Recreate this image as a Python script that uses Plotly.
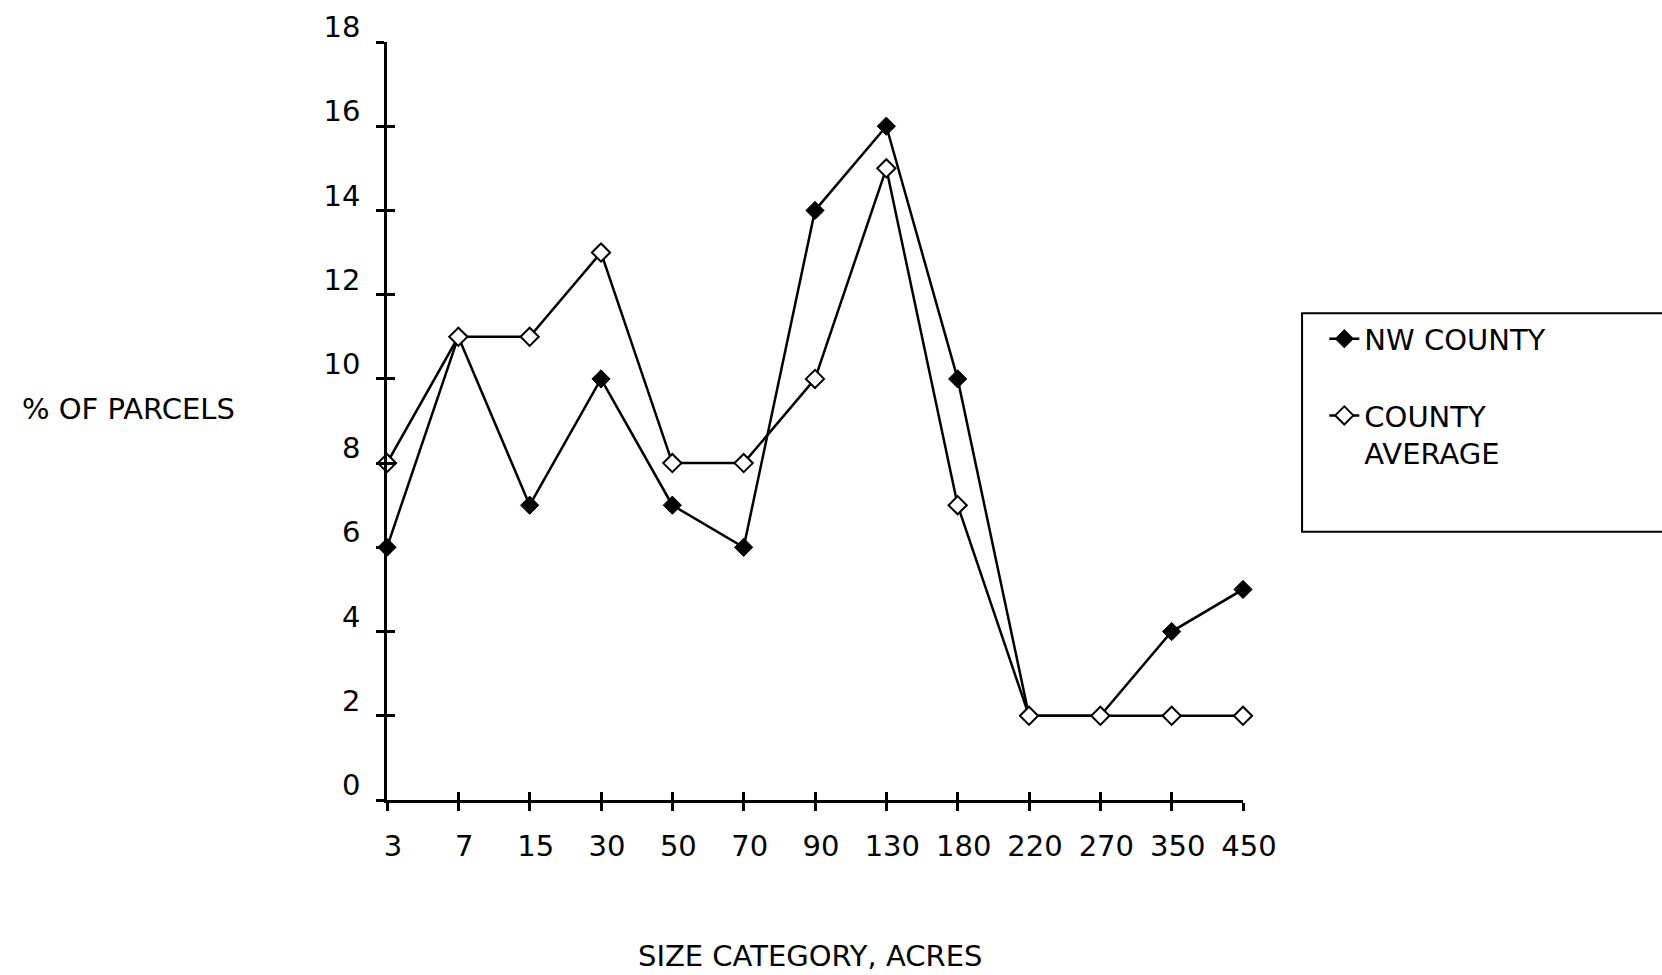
import plotly.graph_objects as go

# Parcel size categories (acres) and share of parcels in each
size_categories = ["3", "7", "15", "30", "50", "70", "90", "130", "180", "220", "270", "350", "450"]
nw_county = [6, 11, 7, 10, 7, 6, 14, 16, 10, 2, 2, 4, 5]
county_average = [8, 11, 11, 13, 8, 8, 10, 15, 7, 2, 2, 2, 2]
y_ticks = [0, 2, 4, 6, 8, 10, 12, 14, 16, 18]

FONT = "DejaVu Sans"
positions = list(range(len(size_categories)))

fig = go.Figure()
fig.add_trace(go.Scatter(
    x=positions, y=nw_county, name="NW COUNTY", mode="lines+markers",
    line=dict(color="black", width=2.5),
    marker=dict(symbol="diamond", size=14, color="black", line=dict(color="black", width=1)),
    cliponaxis=False, legendgroup="nw",
))
fig.add_trace(go.Scatter(
    x=positions, y=county_average, name="COUNTY<br>AVERAGE", mode="lines+markers",
    line=dict(color="black", width=2.5),
    marker=dict(symbol="diamond", size=14, color="white", line=dict(color="black", width=2)),
    cliponaxis=False, legendgroup="avg",
))
# empty trace that anchors the companion axes (inner tick halves)
fig.add_trace(go.Scatter(x=[], y=[], xaxis="x2", yaxis="y2", showlegend=False, hoverinfo="skip"))

axis_common = dict(showgrid=False, zeroline=False, showline=True, linecolor="black",
                   linewidth=2.5, tickcolor="black", tickwidth=2.5, ticklen=8,
                   automargin=False)

fig.update_layout(
    width=1662, height=975,
    margin=dict(l=387, r=419, t=42, b=175),
    paper_bgcolor="white", plot_bgcolor="white",
    font=dict(family=FONT, size=29, color="black"),
    showlegend=True,
    legend=dict(x=1.095, y=0.642, xanchor="left", yanchor="top",
                bgcolor="rgba(0,0,0,0)", borderwidth=0,
                traceorder="grouped", tracegroupgap=36, valign="top",
                font=dict(family=FONT, size=29, color="black")),
    xaxis=dict(**axis_common, range=[0, 12], tickmode="array", tickvals=positions,
               ticktext=size_categories, ticks="outside", ticklabelshift=6,
               ticklabelstandoff=10, tickfont=dict(size=29), title=dict(text="")),
    yaxis=dict(**axis_common, range=[0, 18], tickmode="array", tickvals=y_ticks,
               ticks="outside", ticklabelshift=-15, ticklabelstandoff=10,
               tickfont=dict(size=29), title=dict(text="")),
    xaxis2=dict(**axis_common, range=[0, 12], tickmode="array", tickvals=positions,
                ticks="inside", showticklabels=False, overlaying="x", anchor="y2"),
    yaxis2=dict(**axis_common, range=[0, 18], tickmode="array", tickvals=y_ticks,
                ticks="inside", showticklabels=False, overlaying="y", anchor="x2"),
    shapes=[dict(type="rect", xref="paper", yref="paper", x0=1.069, x1=1.52,
                 y0=0.354, y1=0.642, line=dict(color="black", width=2))],
    annotations=[
        dict(text="% OF PARCELS", xref="paper", yref="paper", x=-0.302, y=0.516,
             xanchor="center", yanchor="middle", showarrow=False,
             font=dict(family=FONT, size=29, color="black")),
        dict(text="SIZE CATEGORY, ACRES", xref="paper", yref="paper", x=0.494, y=-0.206,
             xanchor="center", yanchor="middle", showarrow=False,
             font=dict(family=FONT, size=29, color="black")),
    ],
)

fig.write_html("out.html")
